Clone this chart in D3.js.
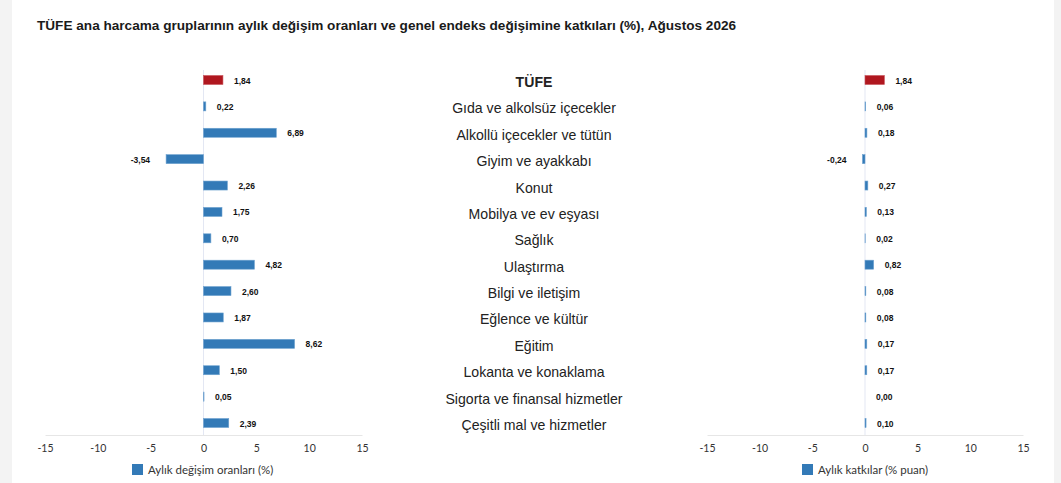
<!DOCTYPE html>
<html>
<head>
	<meta charset="utf-8">
	<title>TÜFE ana harcama grupları</title>
	<script src="https://cdnjs.cloudflare.com/ajax/libs/d3/7.8.5/d3.min.js"></script>
	<style>
		body { margin: 0; background: #f3f3f3; }
		svg { display: block; }
	</style>
</head>
<body>
	<script type="text/javascript">

		// data
		let categories = ['TÜFE', 'Gıda ve alkolsüz içecekler', 'Alkollü içecekler ve tütün', 'Giyim ve ayakkabı',
			'Konut', 'Mobilya ve ev eşyası', 'Sağlık', 'Ulaştırma', 'Bilgi ve iletişim', 'Eğlence ve kültür',
			'Eğitim', 'Lokanta ve konaklama', 'Sigorta ve finansal hizmetler', 'Çeşitli mal ve hizmetler'];
		let monthlyChange = [1.84, 0.22, 6.89, -3.54, 2.26, 1.75, 0.70, 4.82, 2.60, 1.87, 8.62, 1.50, 0.05, 2.39];
		let contribution = [1.84, 0.06, 0.18, -0.24, 0.27, 0.13, 0.02, 0.82, 0.08, 0.08, 0.17, 0.17, 0.00, 0.10];
		let tickValues = [-15, -10, -5, 0, 5, 10, 15];
		let legendLabels = ['Aylık değişim oranları (%)', 'Aylık katkılar (% puan)'];

		let W = 1061, H = 483;
		let svg = d3.select('body').append('svg')
			.attr('width', W)
			.attr('height', H);

		// white card
		svg.append('rect')
			.attr('x', 12).attr('y', 0)
			.attr('width', 1042).attr('height', H)
			.attr('fill', '#fff');

		svg.append('text')
			.attr('x', 37).attr('y', 30)
			.attr('font-family', 'Liberation Sans, Arial, sans-serif')
			.attr('font-weight', 'bold')
			.attr('font-size', 13.6)
			.attr('fill', '#1a1a1a')
			.text('TÜFE ana harcama gruplarının aylık değişim oranları ve genel endeks değişimine katkıları (%), Ağustos 2026');

		let y = d3.scalePoint()
			.domain(categories)
			.range([80, 423]);

		let axisY = 435;
		let barH = 9;
		let fmt = d => d3.format('.2f')(d).replace('.', ',').replace('−', '-');

		// category names in the middle
		svg.append('g').selectAll('text')
			.data(categories)
			.enter().append('text')
			.attr('x', 534)
			.attr('y', d => y(d) + 7)
			.attr('text-anchor', 'middle')
			.attr('font-family', 'Liberation Sans, Arial, sans-serif')
			.attr('font-size', 14.1)
			.attr('font-weight', (d, i) => i == 0 ? 'bold' : 'normal')
			.attr('fill', '#222')
			.text(d => d);

		function renderPanel(values, range, legendX, legendText) {
			let x = d3.scaleLinear()
				.domain([-15, 15])
				.range(range);
			let g = svg.append('g');

			// zero line
			g.append('line')
				.attr('x1', x(0)).attr('x2', x(0))
				.attr('y1', 70).attr('y2', axisY)
				.attr('stroke', '#e3e7f3');

			// axis
			let axis = g.append('g')
				.attr('transform', 'translate(0,' + axisY + ')')
				.call(d3.axisBottom(x).tickValues(tickValues).tickSize(0).tickPadding(10)
					.tickFormat(d => String(d)));
			axis.select('.domain').attr('stroke', '#e6e6e6');
			axis.selectAll('text')
				.attr('font-family', 'Lato, sans-serif')
				.attr('font-size', 10.5)
				.attr('fill', '#333');

			// bars
			g.selectAll('rect.bar')
				.data(values)
				.enter().append('rect')
				.attr('class', 'bar')
				.attr('x', d => x(Math.min(0, d)))
				.attr('y', (d, i) => y(categories[i]) - barH / 2)
				.attr('width', d => Math.abs(x(d) - x(0)))
				.attr('height', barH)
				.attr('fill', (d, i) => i == 0 ? '#b0171f' : '#337ab7')
				.attr('stroke', (d, i) => i == 0 ? '#c9545a' : '#6ea2d0')
				.attr('stroke-width', 0.6);

			// value labels
			g.selectAll('text.val')
				.data(values)
				.enter().append('text')
				.attr('class', 'val')
				.attr('x', d => d < 0 ? x(d) - 16 : x(d) + 11)
				.attr('y', (d, i) => y(categories[i]) + 3.5)
				.attr('text-anchor', d => d < 0 ? 'end' : 'start')
				.attr('font-family', 'Liberation Sans, Arial, sans-serif')
				.attr('font-weight', 'bold')
				.attr('font-size', 8.5)
				.attr('fill', '#111')
				.text(fmt);

			// legend
			g.append('rect')
				.attr('x', legendX).attr('y', 464)
				.attr('width', 11).attr('height', 11)
				.attr('fill', '#337ab7');
			g.append('text')
				.attr('x', legendX + 16).attr('y', 473.5)
				.attr('font-family', 'Lato, sans-serif')
				.attr('font-size', 11.5)
				.attr('fill', '#333')
				.text(legendText);
		}

		renderPanel(monthlyChange, [45, 362], 132, legendLabels[0]);
		renderPanel(contribution, [707, 1023], 802, legendLabels[1]);

	</script>
</body>
</html>
